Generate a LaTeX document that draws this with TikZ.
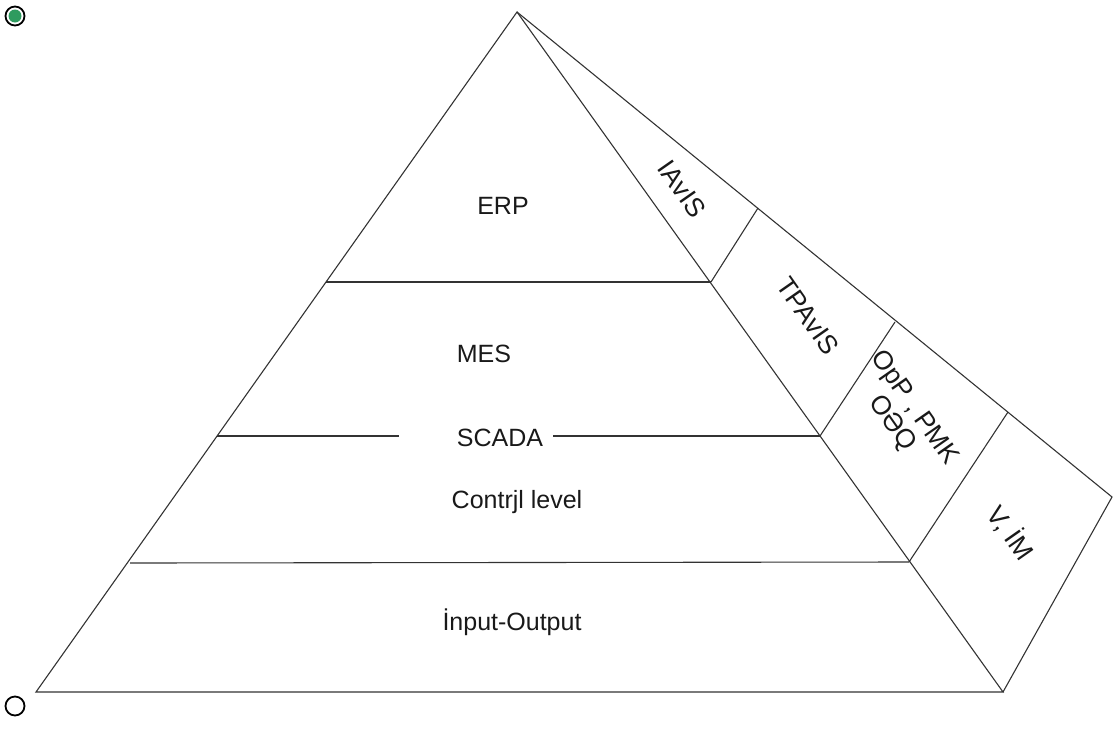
\documentclass[tikz,border=0pt]{standalone}
\usepackage{fontspec}
\setmainfont{Liberation Sans}
\definecolor{dotgreen}{HTML}{2E9B5F}
\definecolor{edge}{HTML}{333333}
\begin{document}
\begin{tikzpicture}[x=1pt,y=-1pt,
  edgeline/.style={draw=edge,line width=1.1pt},
  levellabel/.style={font=\fontsize{25}{29}\selectfont,text=black!90,inner sep=0pt},
  sidelabel/.style={font=\fontsize{26.5}{27}\selectfont,text=black!90,inner sep=0pt,rotate=-55,align=center}]
\useasboundingbox (0,0) rectangle (1113,734);
% main points
\coordinate (A) at (517,12);
\coordinate (BL) at (36,692);
\coordinate (BR) at (1003,692);
\coordinate (O) at (1112,497);
\coordinate (L1) at (326,282);
\coordinate (L2) at (217,436);
\coordinate (L3) at (130,563);
\coordinate (P1) at (711,282);
\coordinate (P2) at (820,436);
\coordinate (P3) at (909,562);
\coordinate (Q1) at (758,208);
\coordinate (Q2) at (895,322);
\coordinate (Q3) at (1008,412);
% pyramid
\draw[edgeline,line join=miter] (BL) -- (A) -- (BR) -- cycle;
\draw[edgeline] (A) -- (O) -- (BR);
\draw[edgeline] (L1) -- (P1);
\draw[edgeline] (L3) -- (P3);
\draw[edgeline] (P1) -- (Q1);
\draw[edgeline] (P2) -- (Q2);
\draw[edgeline] (P3) -- (Q3);
% level labels
\node[levellabel] (erp) at (503,206) {ERP};
\node[levellabel] (mes) at (484,354) {MES};
\node[levellabel] (scada) at (500,438) {SCADA};
\node[levellabel] (ctrl) at (517,502) {Contrjl level};
\node[levellabel] (io) at (512,622) {İnput-Output};
\draw[edgeline] (L2) -- ([xshift=-58pt]scada.west |- L2);
\draw[edgeline] ([xshift=10pt]scada.east |- P2) -- (P2);
% side labels
\node[sidelabel] (s1) at (682,189) {IAvIS};
\node[sidelabel] (s2) at (808,316) {TPAvIS};
\node[sidelabel] (s3) at (903,416) {OpP , PMK\\OƏQ};
\node[sidelabel] (s4) at (1011,533) {V, İM};
% circles
\draw[draw=black,line width=1.8pt] (15,16) circle[radius=9.5];
\fill[dotgreen] (15,16) circle[radius=6.5];
\node[draw=black,line width=1.8pt,circle,minimum size=19pt,inner sep=0pt] (c2) at (15,706) {};
\end{tikzpicture}
\end{document}
